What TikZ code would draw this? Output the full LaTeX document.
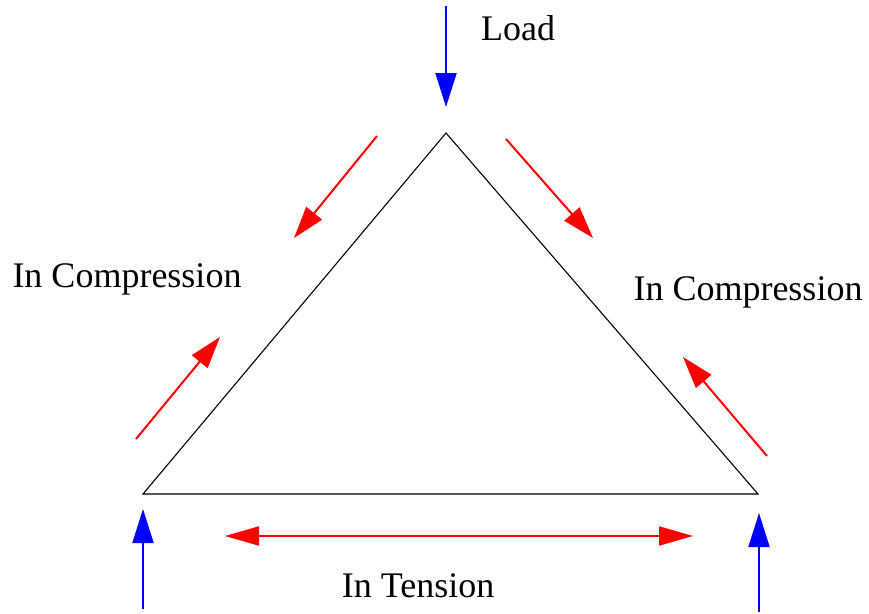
\documentclass[tikz,border=0pt]{standalone}
\usepackage{fontspec}
\setmainfont{Liberation Serif}
\usetikzlibrary{arrows.meta}
\definecolor{forcered}{RGB}{255,0,0}
\definecolor{loadblue}{RGB}{0,0,255}

\tikzset{
  member/.style={line width=1.1pt, black},
  force/.style={line width=2pt, forcered, -{Triangle[length=32pt,width=20pt]}},
  bothforce/.style={line width=2pt, forcered, {Triangle[length=34pt,width=19pt]}-{Triangle[length=34pt,width=19pt]}},
  load/.style={line width=2pt, loadblue, -{Triangle[length=34pt,width=21pt]}},
  lbl/.style={font=\fontsize{36}{42}\selectfont, inner sep=0pt, anchor=base}
}

\begin{document}
\begin{tikzpicture}[x=1pt,y=-1pt]
  \useasboundingbox (0,0) rectangle (869,613);

  %---------------------------------------
  % Truss corners
  %---------------------------------------
  \coordinate (top) at (446,133);
  \coordinate (bl)  at (143,494);
  \coordinate (br)  at (758,494);

  \draw[member] (top) -- (bl) -- (br) -- cycle;

  % ---- Load and supports ----
  \coordinate (loadS) at (446,6);
  \coordinate (loadE) at (446,107);
  \draw[load] (loadS) -- (loadE);
  \node[lbl] (loadlbl) at (518,40) {Load};

  \coordinate (supLS) at (143,609);
  \coordinate (supLE) at (143,509);
  \draw[load] (supLS) -- (supLE);
  \coordinate (supRS) at (759,612);
  \coordinate (supRE) at (759,513);
  \draw[load] (supRS) -- (supRE);

  % ---- Compression arrows (left member) ----
  \coordinate (cl1S) at (377,136);
  \coordinate (cl1E) at (294,238);
  \draw[force] (cl1S) -- (cl1E);
  \coordinate (cl2S) at (136,439);
  \coordinate (cl2E) at (220,337);
  \draw[force] (cl2S) -- (cl2E);
  \node[lbl] (compL) at (127,287) {In Compression};

  % ---- Compression arrows (right member) ----
  \coordinate (cr1S) at (506,139);
  \coordinate (cr1E) at (593,238);
  \draw[force] (cr1S) -- (cr1E);
  \coordinate (cr2S) at (767,456);
  \coordinate (cr2E) at (683,357);
  \draw[force] (cr2S) -- (cr2E);
  \node[lbl] (compR) at (748,300) {In Compression};

  % ---- Tension arrow (bottom member) ----
  \coordinate (tL) at (225,536);
  \coordinate (tR) at (693,536);
  \draw[bothforce] (tL) -- (tR);
  \node[lbl] (tens) at (418,597) {In Tension};

\end{tikzpicture}
\end{document}
